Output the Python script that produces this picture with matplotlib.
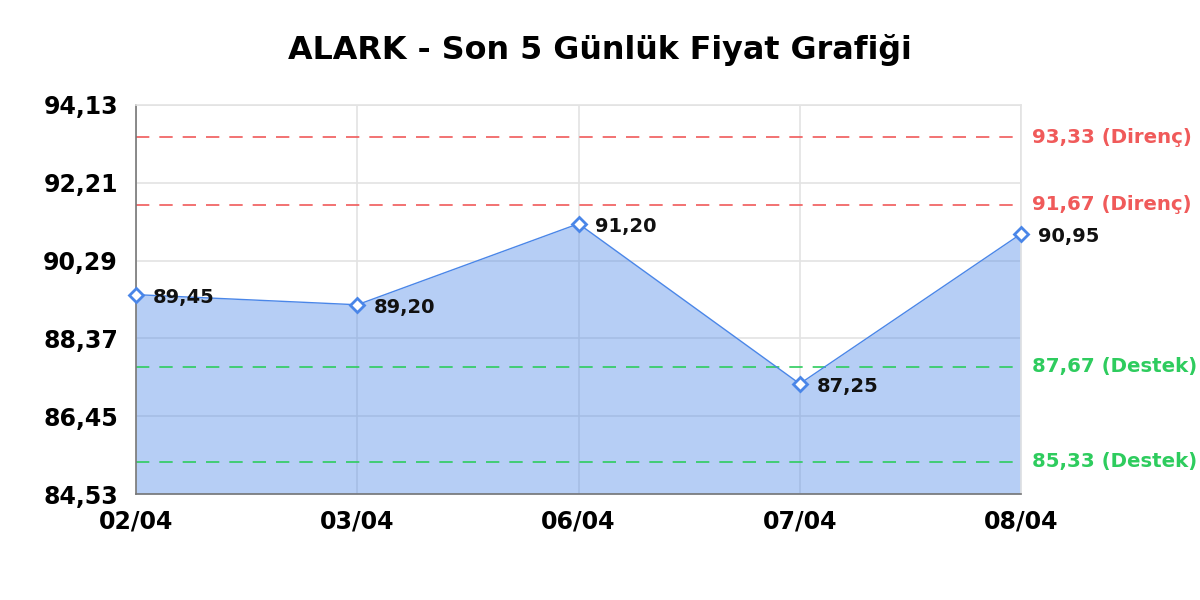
import matplotlib
matplotlib.use("Agg")
import matplotlib.pyplot as plt
import numpy as np

title = "ALARK - Son 5 Günlük Fiyat Grafiği"
dates = ["02/04", "03/04", "06/04", "07/04", "08/04"]
prices = [89.45, 89.20, 91.20, 87.25, 90.95]
y_ticks = [84.53, 86.45, 88.37, 90.29, 92.21, 94.13]
resistance = [93.33, 91.67]
support = [87.67, 85.33]

plt.rcParams['font.family'] = ['DejaVu Sans']

fig = plt.figure(figsize=(12, 6), dpi=100)
ax = fig.add_axes([136/1200, 1-494/600, (1021-136)/1200, (494-105)/600])

x = np.arange(len(dates))
line_c = "#4a86e8"
ax.fill_between(x, prices, y_ticks[0], color=line_c, alpha=0.4, lw=0, zorder=1)
ax.plot(x, prices, color=line_c, lw=1.0, zorder=3)
ax.plot(x, prices, linestyle='none', marker='D', markersize=7.5,
        markerfacecolor='white', markeredgecolor=line_c, markeredgewidth=2.0, zorder=4, clip_on=False)

for xi, p in zip(x, prices):
    ax.annotate(f"{p:.2f}".replace('.', ','), (xi, p), xytext=(12, -2),
                textcoords='offset points', ha='left', va='center',
                fontsize=14, fontweight='bold', color='#111111', zorder=5)

red = "#f05a5a"
green = "#2ecc5e"
for r in resistance:
    ax.axhline(r, color=red, lw=1.2, linestyle=(0, (8, 6)), zorder=2)
    ax.annotate(f"{r:.2f}".replace('.', ',') + " (Direnç)", (1, r), xycoords=('axes fraction', 'data'),
                xytext=(8, 0), textcoords='offset points', ha='left', va='center',
                fontsize=14.2, fontweight='bold', color=red, annotation_clip=False)
for s in support:
    ax.axhline(s, color=green, lw=1.2, linestyle=(0, (8, 6)), zorder=2)
    ax.annotate(f"{s:.2f}".replace('.', ',') + " (Destek)", (1, s), xycoords=('axes fraction', 'data'),
                xytext=(8, 0), textcoords='offset points', ha='left', va='center',
                fontsize=14.2, fontweight='bold', color=green, annotation_clip=False)

ax.set_xlim(0, len(dates) - 1)
ax.set_ylim(y_ticks[0], y_ticks[-1])
ax.set_xticks(x)
ax.set_xticklabels(dates)
ax.set_yticks(y_ticks)
ax.set_yticklabels([f"{t:.2f}".replace('.', ',') for t in y_ticks])
ax.tick_params(length=0, labelsize=17)
ax.tick_params(axis='y', pad=13)
ax.tick_params(axis='x', pad=11)
for lab in ax.get_xticklabels() + ax.get_yticklabels():
    lab.set_fontweight('bold')

ax.grid(True, color="#e3e3e3", lw=1.2, zorder=0)
ax.set_axisbelow(True)
for side in ['top', 'right']:
    ax.spines[side].set_color("#e3e3e3")
    ax.spines[side].set_linewidth(1.2)
for side in ['left', 'bottom']:
    ax.spines[side].set_color("#777777")
    ax.spines[side].set_linewidth(1.2)

fig.text(0.5, 1-59.5/600, title, ha='center', va='baseline', fontsize=22.9, fontweight='bold')

fig.savefig("out.png", dpi=100)
